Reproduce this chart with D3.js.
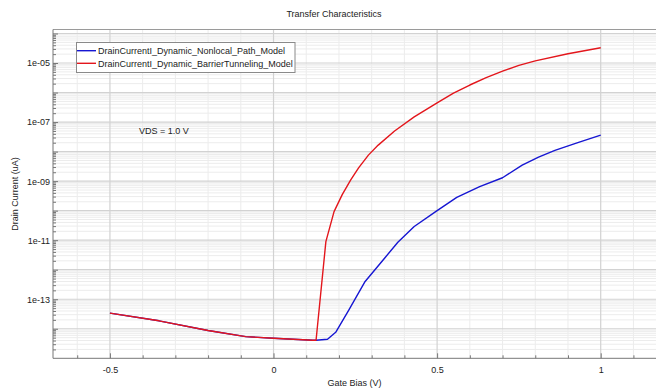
<!DOCTYPE html>
<html><head><meta charset="utf-8">
<script src="https://cdn.jsdelivr.net/npm/d3@7/dist/d3.min.js"></script>
<style>body{margin:0;background:#fff}svg{display:block;font-family:"Liberation Sans",Arial,sans-serif}</style>
</head><body>
<script>
const title = "Transfer Characteristics";
const xLabel = "Gate Bias (V)";
const yLabel = "Drain Current (uA)";
const annotation = "VDS = 1.0 V";
const seriesNames = ["DrainCurrentI_Dynamic_Nonlocal_Path_Model", "DrainCurrentI_Dynamic_BarrierTunneling_Model"];
const seriesColors = ["#1616d2", "#e3161c"];
const nonlocalVg = [-0.5, -0.35, -0.2, -0.085, 0, 0.12, 0.13, 0.165, 0.19, 0.23, 0.28, 0.34, 0.38, 0.43, 0.5, 0.56, 0.63, 0.7, 0.76, 0.81, 0.86, 0.93, 1.0];
const nonlocalId = [3.4e-14, 1.86e-14, 8.7e-15, 5.4e-15, 4.8e-15, 4.1e-15, 4.1e-15, 4.4e-15, 7.6e-15, 4.3e-14, 4.0e-13, 2.5e-12, 8.5e-12, 2.9e-11, 1.0e-10, 2.8e-10, 6.5e-10, 1.3e-9, 3.5e-9, 6.5e-9, 1.1e-8, 2.0e-8, 3.6e-8];
const tunnelVg = [-0.5, -0.35, -0.2, -0.085, 0, 0.12, 0.13, 0.16, 0.185, 0.21, 0.236, 0.26, 0.29, 0.32, 0.37, 0.43, 0.5, 0.55, 0.6, 0.65, 0.7, 0.75, 0.8, 0.9, 1.0];
const tunnelId = [3.4e-14, 1.86e-14, 8.7e-15, 5.4e-15, 4.8e-15, 4.1e-15, 4.1e-15, 8.9e-12, 9.3e-11, 3.5e-10, 1.1e-9, 2.8e-9, 7.6e-9, 1.66e-8, 5.0e-8, 1.5e-7, 4.5e-7, 9.5e-7, 1.8e-6, 3.2e-6, 5.3e-6, 8.3e-6, 1.18e-5, 2.05e-5, 3.3e-5];
const xTickLabels = [-0.5, 0, 0.5, 1];
const yTickLabels = [1e-5, 1e-7, 1e-9, 1e-11, 1e-13];

const W = 656, H = 389;
const L = 53, T = 29.5, R = 656, B = 358.3;
const svg = d3.select("body").append("svg").attr("width", W).attr("height", H);
const x = d3.scaleLinear().domain([-0.674, 1.169]).range([L, R]);
const y = d3.scaleLog().domain([Math.pow(10, -3.865), 1e-15]).range([T, B]);

svg.append("defs").append("clipPath").attr("id", "clip").append("rect")
  .attr("x", L).attr("y", T).attr("width", R - L).attr("height", B - T);

// grid
const g = svg.append("g");
const minorX = d3.range(-6, 12).map(i => i / 10).filter(v => Math.abs(v * 2 - Math.round(v * 2)) > 1e-6);
const majorX = [-0.5, 0, 0.5, 1];
const decades = d3.range(-15, -3);
const minorY = [];
decades.forEach(d => { for (let m = 2; m <= 9; m++) { const v = m * Math.pow(10, d); if (y(v) >= T) minorY.push(v); } });
const majorY = decades.map(d => Math.pow(10, d)).filter(v => y(v) >= T && y(v) < B);
g.selectAll(".mx").data(minorX).join("line").attr("x1", d => x(d)).attr("x2", d => x(d)).attr("y1", T).attr("y2", B).attr("stroke", "#ececec").attr("stroke-width", 1);
g.selectAll(".my").data(minorY).join("line").attr("y1", d => y(d)).attr("y2", d => y(d)).attr("x1", L).attr("x2", R).attr("stroke", "#ececec").attr("stroke-width", 1);
g.selectAll(".Mx").data(majorX).join("line").attr("x1", d => x(d)).attr("x2", d => x(d)).attr("y1", T).attr("y2", B).attr("stroke", "#d2d2d2").attr("stroke-width", 1.2);
g.selectAll(".My").data(majorY).join("line").attr("y1", d => y(d)).attr("y2", d => y(d)).attr("x1", L).attr("x2", R).attr("stroke", "#d2d2d2").attr("stroke-width", 1.2);

// top border
svg.append("line").attr("x1", L).attr("x2", R).attr("y1", T).attr("y2", T).attr("stroke", "#9a9a9a");

// axes
const xAxisMinor = d3.axisBottom(x).tickValues(minorX).tickSize(-3).tickFormat("");
const xAxis = d3.axisBottom(x).tickValues(xTickLabels).tickSize(-5).tickPadding(8).tickFormat(d => String(d));
const yAxisMinor = d3.axisLeft(y).tickValues(minorY).tickSize(-3).tickFormat("");
const yAxisMajor = d3.axisLeft(y).tickValues(majorY).tickSize(-5).tickFormat("");
const yAxis = d3.axisLeft(y).tickValues(yTickLabels).tickSize(0).tickPadding(3)
  .tickFormat(d => { const e = Math.round(Math.log10(d)); return "1e" + (e < 0 ? "-" : "+") + String(Math.abs(e)).padStart(2, "0"); });
function style(sel) {
  sel.select(".domain").remove();
  sel.selectAll("line").attr("stroke", "#777");
  sel.selectAll("text").attr("fill", "#222").style("font-size", "9px").style("font-family", "Liberation Sans, Arial, sans-serif");
}
svg.append("g").attr("transform", `translate(0,${B})`).call(xAxisMinor).call(style);
svg.append("g").attr("transform", `translate(0,${B})`).call(xAxis).call(style);
svg.append("g").attr("transform", `translate(${L},0)`).call(yAxisMinor).call(style);
svg.append("g").attr("transform", `translate(${L},0)`).call(yAxisMajor).call(style);
svg.append("g").attr("transform", `translate(${L},0)`).call(yAxis).call(style);
svg.append("line").attr("x1", L).attr("x2", L).attr("y1", T).attr("y2", B).attr("stroke", "#777");
svg.append("line").attr("x1", L).attr("x2", R).attr("y1", B).attr("y2", B).attr("stroke", "#777");

// lines
const line = d3.line().x(d => x(d[0])).y(d => y(d[1]));
const series = [d3.zip(nonlocalVg, nonlocalId), d3.zip(tunnelVg, tunnelId)];
svg.append("g").attr("clip-path", "url(#clip)").selectAll("path").data(series).join("path")
  .attr("d", line).attr("fill", "none").attr("stroke", (d, i) => seriesColors[i]).attr("stroke-width", 1.4).attr("stroke-linejoin", "round");

// texts
svg.append("text").attr("x", 334).attr("y", 17).attr("text-anchor", "middle").style("font-size", "9px").attr("fill", "#222").text(title);
svg.append("text").attr("x", (L + R) / 2).attr("y", 386).attr("text-anchor", "middle").style("font-size", "9px").attr("fill", "#222").text(xLabel);
svg.append("text").attr("transform", `translate(18,${(T + B) / 2}) rotate(-90)`).attr("text-anchor", "middle").style("font-size", "9px").attr("fill", "#222").text(yLabel);
svg.append("text").attr("x", 139).attr("y", 134).style("font-size", "9px").attr("fill", "#222").text(annotation);

// legend
const lg = svg.append("g");
lg.append("rect").attr("x", 76.5).attr("y", 42.5).attr("width", 218.5).attr("height", 30).attr("fill", "#fff").attr("stroke", "#8a8a8a");
seriesNames.forEach((n, i) => {
  const yy = 50.7 + i * 12.6;
  lg.append("line").attr("x1", 77).attr("x2", 96).attr("y1", yy).attr("y2", yy).attr("stroke", seriesColors[i]).attr("stroke-width", 1.4);
  lg.append("text").attr("x", 98).attr("y", yy + 3.2).style("font-size", "9px").attr("fill", "#222").text(n);
});
</script>
</body></html>
